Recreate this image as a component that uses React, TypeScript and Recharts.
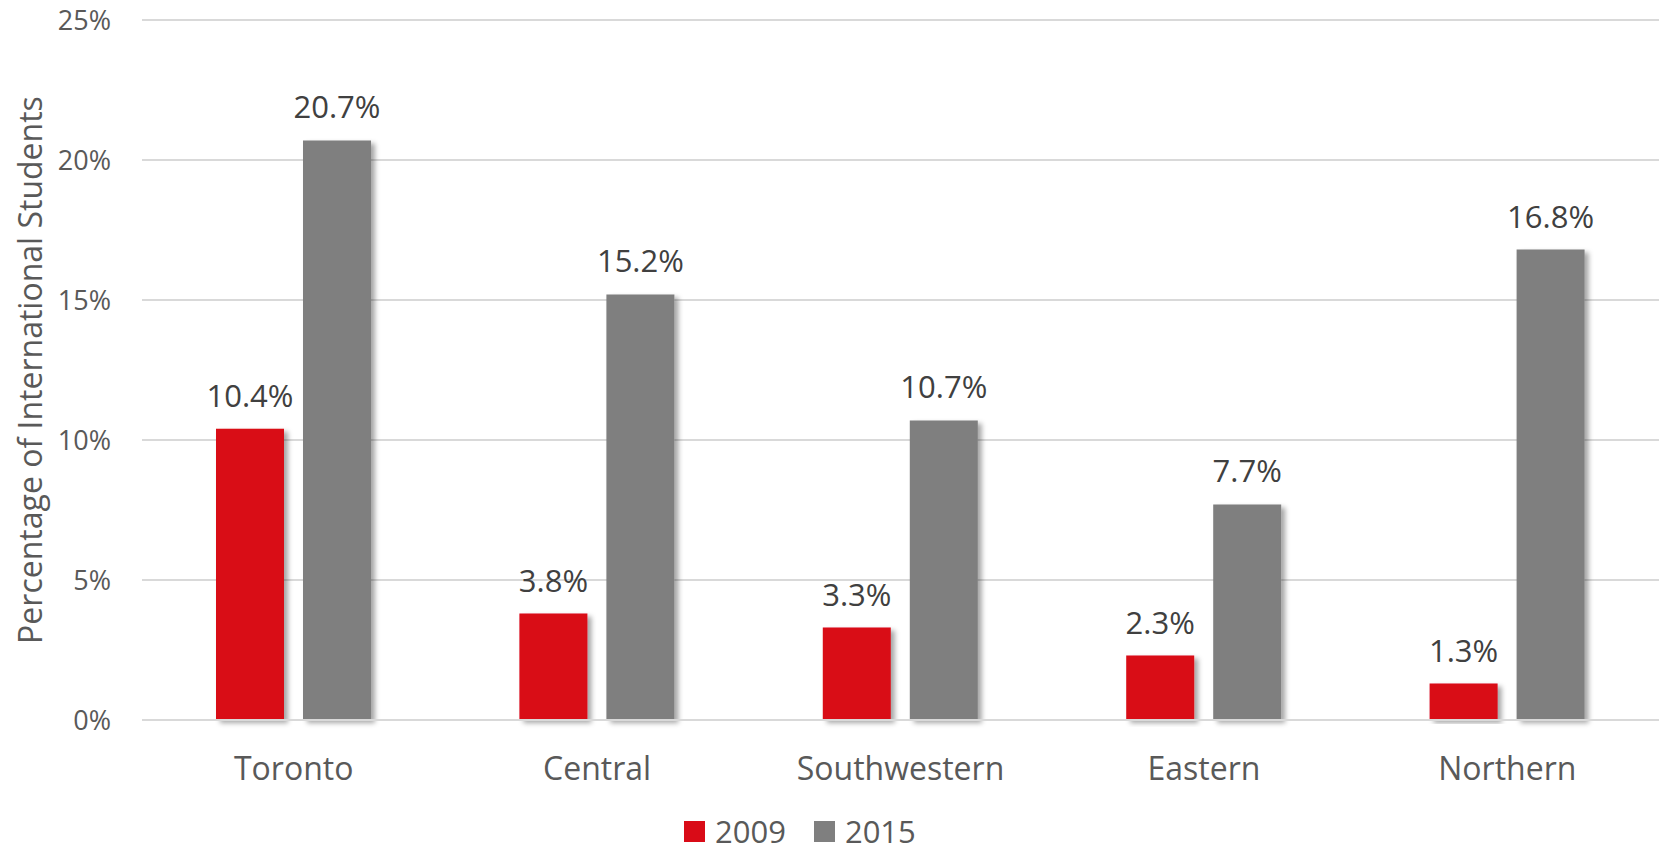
import { BarChart, Bar, XAxis, YAxis, CartesianGrid, Legend, LabelList, Label } from "recharts";

const regions = ["Toronto", "Central", "Southwestern", "Eastern", "Northern"];
const pct2009 = [10.4, 3.8, 3.3, 2.3, 1.3];
const pct2015 = [20.7, 15.2, 10.7, 7.7, 16.8];
const yTicks = [0, 5, 10, 15, 20, 25];

const RED = "#d90b17";
const GREY = "#7f7f7f";
const FONT = "'Open Sans', sans-serif";

const data = regions.map((region, i) => ({
  region,
  y2009: pct2009[i],
  y2015: pct2015[i],
}));

const series = [
  { key: "y2009", name: "2009", color: RED },
  { key: "y2015", name: "2015", color: GREY },
];

function LegendBox() {
  return (
    <div style={{ display: "flex", alignItems: "center", paddingLeft: 684, height: 28, boxSizing: "border-box", fontFamily: FONT }}>
      {series.map((s) => (
        <div key={s.key} style={{ display: "flex", alignItems: "center", marginRight: 28 }}>
          <span style={{ width: 21, height: 21, background: s.color, display: "inline-block", marginRight: 10 }} />
          <span style={{ fontSize: 31, color: "#595959", lineHeight: "28px" }}>{s.name}</span>
        </div>
      ))}
    </div>
  );
}

export default function App() {
  return (
    <div style={{ width: 1660, height: 849, position: "relative" }}>
      <style>{"body{margin:0}"}</style>
      <svg width={0} height={0} style={{ position: "absolute" }}>
        <defs>
          <filter id="barShadow" x="-20%" y="-5%" width="150%" height="115%">
            <feDropShadow dx={4} dy={3} stdDeviation={2.5} floodColor="#000" floodOpacity={0.35} />
          </filter>
        </defs>
      </svg>
      <BarChart
        width={1660}
        height={849}
        data={data}
        margin={{ top: 20, right: 1, left: 0, bottom: 0 }}
        barSize={68}
        barGap={19}
      >
        <CartesianGrid vertical={false} stroke="#d9d9d9" strokeWidth={2} />
        <XAxis
          dataKey="region"
          height={101}
          tickLine={false}
          axisLine={{ stroke: "#d9d9d9", strokeWidth: 2 }}
          tickSize={0}
          tickMargin={37}
          tick={{ fontSize: 32, fill: "#595959", fontFamily: FONT }}
        />
        <YAxis
          width={142}
          domain={[0, 25]}
          ticks={yTicks}
          tickFormatter={(v: number) => `${v}%`}
          axisLine={false}
          tickLine={false}
          tickSize={0}
          tickMargin={31}
          tick={{ fontSize: 27, fill: "#595959", fontFamily: FONT }}
        >
          <Label
            value="Percentage of International Students"
            angle={-90}
            position="insideLeft"
            offset={31}
            style={{ textAnchor: "middle", fontSize: 32, fill: "#595959", fontFamily: FONT }}
          />
        </YAxis>
        <Legend
          verticalAlign="bottom"
          content={<LegendBox />}
          wrapperStyle={{ left: 0, width: 1660, top: 817, height: 28 }}
        />
        {series.map((s) => (
          <Bar key={s.key} dataKey={s.key} name={s.name} fill={s.color} filter="url(#barShadow)" isAnimationActive={false}>
            <LabelList
              dataKey={s.key}
              position="top"
              offset={22}
              formatter={(v: number) => `${v}%`}
              style={{ fontSize: 31, fill: "#404040", fontFamily: FONT, filter: "none" }}
            />
          </Bar>
        ))}
      </BarChart>
    </div>
  );
}
